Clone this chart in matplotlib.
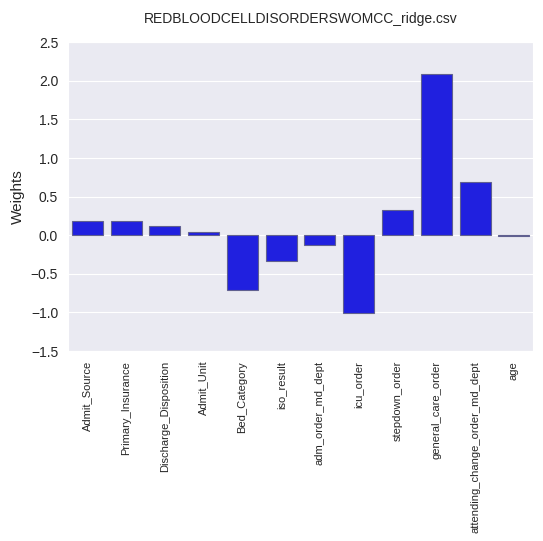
import matplotlib
matplotlib.use("Agg")
import matplotlib.pyplot as plt
import seaborn as sns

features = ['Admit_Source', 'Primary_Insurance', 'Discharge_Disposition', 'Admit_Unit',
            'Bed_Category', 'iso_result', 'adm_order_md_dept', 'icu_order',
            'stepdown_order', 'general_care_order', 'attending_change_order_md_dept', 'age']
weights = [0.185, 0.185, 0.12, 0.048, -0.71, -0.333, -0.13, -1.01, 0.328, 2.09, 0.69, -0.015]

sns.set_style("darkgrid")
plt.rcParams['font.family'] = ['Liberation Sans', 'DejaVu Sans']

fig = plt.figure(figsize=(5.43, 5.41), dpi=100)
ax = fig.add_axes([0.125, 0.351, 0.857, 0.571])

ax.bar(range(len(features)), weights, width=0.8, color='#2020df',
       edgecolor='#606090', linewidth=0.8)

ax.set_xlim(-0.5, len(features) - 0.5)
ax.set_ylim(-1.5, 2.5)
ax.set_xticks(range(len(features)))
ax.set_xticklabels(features, rotation=90, fontsize=8)
ax.tick_params(axis='y', labelsize=10)
ax.xaxis.grid(False)
ax.set_ylabel("Weights", fontsize=11)
ax.set_title("REDBLOODCELLDISORDERSWOMCC_ridge.csv", fontsize=10, pad=14)

fig.savefig("out.png", dpi=100)
